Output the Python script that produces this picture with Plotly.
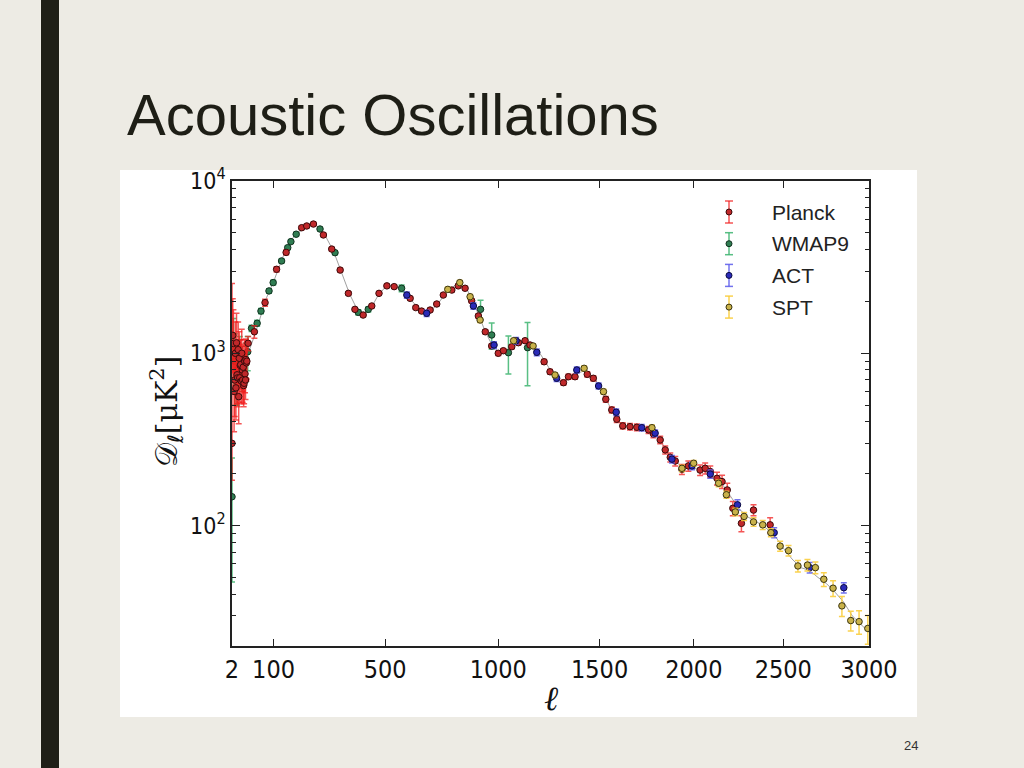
import numpy as np
import plotly.graph_objects as go

# ---------------- data ----------------
tick_ell = [2, 100, 500, 1000, 1500, 2000, 2500, 3000]
tick_ell_text = ["2", "100", "500", "1000", "1500", "2000", "2500", "3000"]
y_tick_vals = [100, 1000, 10000]
y_tick_text = ["10<sup>2</sup>", "10<sup>3</sup>", "10<sup>4</sup>"]
y_minor_vals = [20, 30, 40, 50, 60, 70, 80, 90,
                200, 300, 400, 500, 600, 700, 800, 900,
                2000, 3000, 4000, 5000, 6000, 7000, 8000, 9000]

planck_ell = [2, 3, 4, 5, 6, 7, 8, 9, 10, 11, 12, 13, 14, 15, 16, 17, 18, 19, 20,
              21, 22, 23, 24, 25, 26, 27, 28, 29, 30,
              33, 48, 76, 109, 138, 188, 205, 228, 263, 293,
              324, 355, 380, 412, 446, 475, 507, 537, 604, 628,
              653, 690, 719, 748, 786, 815, 846, 876, 907, 939,
              969, 1000, 1024, 1064, 1096, 1128, 1152, 1221, 1250, 1317,
              1342, 1375, 1437, 1468, 1532, 1563, 1589, 1620, 1658, 1694,
              1756, 1782, 1818, 1845, 1872, 1899, 1935, 1970, 2034, 2062,
              2090, 2127, 2155, 2184, 2215, 2263, 2331, 2425]
planck_D = [300, 1270, 1140, 600, 700, 1000, 630, 1150, 750, 720, 1050, 560, 935, 720, 850,
            860, 690, 1000, 800, 700, 830, 650, 670, 900, 760, 700, 920, 880, 900,
            1143, 1333, 1968, 3073, 3850, 5357, 5482, 5625, 4862, 4027,
            3041, 2228, 1799, 1667, 1882, 2228, 2462, 2437, 2084, 1841,
            1758, 1783, 1932, 2178, 2328, 2462, 2384, 2018, 1647, 1333,
            1103, 1000, 1035, 1092, 1152, 1183, 1117, 893, 781, 675,
            731, 731, 755, 716, 541, 469, 414, 379, 375, 372,
            359, 340, 314, 275, 249, 237, 212, 222, 210, 215,
            206, 188, 180, 161, 126, 103, 123, 101]
planck_err_plus = [2240, 800, 650, 380, 400, 520, 330, 560, 360, 340, 470, 250, 400, 300, 350,
                   340, 270, 380, 300, 260, 300, 230, 230, 300, 250, 230, 290, 270, 270,
                   110, 110, 90, 110, 120, 130, 130, 130, 110, 90,
                   70, 50, 40, 40, 40, 45, 50, 50, 45, 40,
                   40, 40, 42, 45, 50, 55, 55, 50, 42, 35,
                   30, 28, 28, 30, 32, 33, 32, 27, 24, 22,
                   24, 25, 26, 25, 21, 19, 17, 16, 16, 17,
                   17, 17, 16, 15, 15, 15, 14, 15, 15, 16,
                   16, 16, 16, 15, 12, 11, 9, 10]
planck_err_minus = [117, 500, 420, 250, 270, 350, 220, 370, 240, 230, 310, 170, 270, 200, 230,
                    230, 180, 260, 200, 180, 200, 160, 160, 200, 170, 160, 200, 190, 190,
                    110, 110, 90, 110, 120, 130, 130, 130, 110, 90,
                    70, 50, 40, 40, 40, 45, 50, 50, 45, 40,
                    40, 40, 42, 45, 50, 55, 55, 50, 42, 35,
                    30, 28, 28, 30, 32, 33, 32, 27, 24, 22,
                    24, 25, 26, 25, 21, 19, 17, 16, 16, 17,
                    17, 17, 16, 15, 15, 15, 14, 15, 15, 16,
                    16, 16, 16, 15, 12, 11, 9, 10]

wmap_ell = [2, 4, 6, 10, 15, 20, 28, 32, 41, 55, 65, 87, 99,
            124, 143, 153, 170, 251, 305, 393, 432, 568, 917, 969, 1048, 1140]
wmap_D = [147, 1092, 900, 800, 950, 850, 914, 1021, 1396, 1494, 1758, 2301, 2572,
          3435, 4103, 4448, 4910, 5265, 3837, 1729, 1799, 2384, 1799, 1277, 1008, 1078]
wmap_err = [100, 500, 400, 300, 300, 250, 230, 230, 60, 60, 60, 70, 80,
            90, 100, 100, 110, 120, 100, 60, 60, 110, 230, 220, 250, 430]

act_ell = [590, 675, 884, 980, 1085, 1185, 1283, 1384, 1495, 1586,
           1720, 1791, 1881, 1990, 2090, 2241, 2448, 2652, 2851]
act_D = [2178, 1706, 1882, 1117, 1183, 1013, 716, 800, 646, 455,
         370, 344, 243, 222, 199, 132, 91, 57, 43.6]
act_err = [90, 70, 80, 50, 50, 45, 30, 32, 26, 20,
           16, 15, 12, 11, 11, 9, 6, 4, 3]

spt_ell = [768, 822, 869, 915, 1073, 1167, 1275, 1421, 1520, 1774,
           1935, 1999, 2136, 2179, 2229, 2278, 2331, 2383, 2429, 2482,
           2530, 2584, 2639, 2685, 2734, 2788, 2840, 2892, 2941, 2993]
spt_D = [2350, 2572, 2131, 1560, 1183, 1103, 748, 818, 599, 370,
         215, 230, 176, 151, 120, 113, 105, 101, 91, 76,
         71.5, 58.3, 59, 57, 48.8, 43.3, 34.2, 28.1, 27.7, 25.3]
spt_err = [70, 75, 65, 50, 35, 33, 24, 25, 20, 13,
           9, 9, 8, 7, 6, 6, 6, 6, 5, 5,
           5, 4.5, 4.5, 4.5, 4.5, 4.5, 4.5, 3.7, 4.3, 4.8]

model_ell = [2, 10, 30, 50, 80, 100, 130, 160, 200, 220, 240, 270, 300, 330, 360, 390,
             410, 440, 470, 500, 530, 560, 600, 640, 680, 720, 760, 800, 820, 850,
             880, 910, 940, 970, 1000, 1030, 1070, 1110, 1140, 1170, 1200, 1230, 1260,
             1300, 1340, 1380, 1420, 1450, 1480, 1510, 1540, 1570, 1600, 1650, 1700,
             1750, 1790, 1820, 1860, 1900, 1950, 2000, 2050, 2100, 2150, 2200, 2250,
             2300, 2350, 2400, 2450, 2500, 2550, 2600, 2650, 2700, 2750, 2800, 2850,
             2900, 2950, 3000]
model_D = [1000, 800, 950, 1300, 2100, 2600, 3700, 4700, 5400, 5650, 5500, 4800, 3900,
           2900, 2200, 1780, 1680, 1800, 2150, 2420, 2480, 2380, 2100, 1820, 1720, 1900,
           2250, 2480, 2520, 2400, 2050, 1640, 1330, 1120, 1020, 1030, 1100, 1160, 1160,
           1100, 1000, 880, 770, 690, 700, 760, 790, 760, 700, 610, 520, 450, 400, 375,
           370, 360, 340, 310, 265, 235, 215, 215, 210, 195, 178, 150, 125, 112, 105, 97,
           88, 74, 64, 57, 55, 50, 46, 41, 36, 30, 27, 24]

# ---------------- styling / layout constants ----------------
W, H = 1024, 768
POW = 0.79            # horizontal scale of the original plot (ell ** 0.79)
AX_L, AX_R, AX_T, AX_B = 232, 869, 181, 646
BG = "#EDEBE4"
NARROW = "Liberation Sans Narrow, DejaVu Sans Condensed, Liberation Sans, sans-serif"
SANS = "Liberation Sans, Arial, sans-serif"


def tx(vals):
    return np.asarray(vals, dtype=float) ** POW


def px(x):
    return x / W


def py(y):
    return 1 - y / H


fig = go.Figure()

fig.add_trace(go.Scatter(
    x=tx(model_ell), y=model_D, mode="lines",
    line=dict(color="rgba(120,120,120,0.7)", width=1), hoverinfo="skip",
    showlegend=False))

series = [
    ("WMAP9", wmap_ell, wmap_D, wmap_err, wmap_err,
     "rgba(60,180,110,0.85)", "#2f7d52", "#10301e"),
    ("Planck", planck_ell, planck_D, planck_err_plus, planck_err_minus,
     "rgba(240,30,30,0.75)", "#c0282a", "#3a0a0a"),
    ("ACT", act_ell, act_D, act_err, act_err,
     "rgba(90,90,235,0.85)", "#2a2ab8", "#0a0a40"),
    ("SPT", spt_ell, spt_D, spt_err, spt_err,
     "rgba(250,205,60,0.9)", "#c9b24a", "#3a3410"),
]
for name, ell, D, ep, em, ecol, fcol, lcol in series:
    fig.add_trace(go.Scatter(
        x=tx(ell), y=D, mode="markers", name=name, showlegend=False,
        marker=dict(size=6.5, color=fcol, line=dict(color=lcol, width=1)),
        error_y=dict(type="data", array=ep, arrayminus=em, symmetric=False,
                     color=ecol, thickness=1.5, width=3)))

shapes = [
    dict(type="rect", xref="paper", yref="paper", x0=px(120), x1=px(917),
         y0=py(717), y1=py(170), fillcolor="white", line=dict(width=0), layer="below"),
    dict(type="rect", xref="paper", yref="paper", x0=px(41), x1=px(59),
         y0=0, y1=1, fillcolor="#1f1f17", line=dict(width=0), layer="below"),
]

annotations = [
    dict(text="Acoustic Oscillations", x=px(125), y=py(114), xref="paper", yref="paper",
         xanchor="left", yanchor="middle", showarrow=False,
         font=dict(family=SANS, size=58, color="#1e1e16")),
    dict(text="24", x=px(911), y=py(745), xref="paper", yref="paper",
         xanchor="center", yanchor="middle", showarrow=False,
         font=dict(family=SANS, size=13, color="#333333")),
    dict(text="𝒟<sub>ℓ</sub>[μK<sup>2</sup>]", x=px(166), y=py(412), xref="paper",
         yref="paper", xanchor="center", yanchor="middle", textangle=-90,
         showarrow=False, font=dict(family="DejaVu Serif, DejaVu Sans, serif", size=30,
                                    color="#111111")),
    dict(text="<i>ℓ</i>", x=px(551), y=py(698), xref="paper", yref="paper",
         xanchor="center", yanchor="middle", showarrow=False,
         font=dict(family="DejaVu Serif, serif", size=34, color="#111111")),
]

# custom legend (error-bar glyph + label)
leg_x, leg_text_x, leg_y0, leg_dy = 729, 770, 212, 31.7
for i, (name, ell, D, ep, em, ecol, fcol, lcol) in enumerate(
        [series[1], series[0], series[2], series[3]]):
    yc = leg_y0 + i * leg_dy
    shapes.append(dict(type="line", xref="paper", yref="paper", x0=px(leg_x), x1=px(leg_x),
                       y0=py(yc - 11), y1=py(yc + 11), line=dict(color=ecol, width=1.5)))
    for yy in (yc - 11, yc + 11):
        shapes.append(dict(type="line", xref="paper", yref="paper", x0=px(leg_x - 4),
                           x1=px(leg_x + 4), y0=py(yy), y1=py(yy),
                           line=dict(color=ecol, width=1.5)))
    shapes.append(dict(type="circle", xref="paper", yref="paper", x0=px(leg_x - 3),
                       x1=px(leg_x + 3), y0=py(yc + 3), y1=py(yc - 3),
                       fillcolor=fcol, line=dict(color=lcol, width=1)))
    annotations.append(dict(text=name, x=px(leg_text_x), y=py(yc), xref="paper",
                            yref="paper", xanchor="left", yanchor="middle", showarrow=False,
                            font=dict(family=SANS, size=21, color="#222222")))

fig.update_layout(
    width=W, height=H, autosize=False,
    margin=dict(l=0, r=0, t=0, b=0, pad=0, autoexpand=False),
    paper_bgcolor=BG, plot_bgcolor="white", showlegend=False,
    shapes=shapes, annotations=annotations,
    xaxis=dict(domain=[px(AX_L), px(AX_R)], range=[float(tx([2])[0]), float(tx([3000])[0])],
               automargin=False,
               tickmode="array", tickvals=tx(tick_ell), ticktext=tick_ell_text,
               ticks="inside", ticklen=7, tickwidth=1, tickcolor="#222",
               showline=True, linecolor="#222", linewidth=1.5, mirror="ticks",
               showgrid=False, zeroline=False,
               tickfont=dict(family=NARROW, size=25, color="#111")),
    yaxis=dict(domain=[py(AX_B), py(AX_T)], type="log", range=[np.log10(20), 4],
               automargin=False,
               tickmode="array", tickvals=y_tick_vals, ticktext=y_tick_text,
               ticks="inside", ticklen=8, tickwidth=1, tickcolor="#222",
               minor=dict(ticks="inside", ticklen=4, tickcolor="#222",
                          tickmode="array", tickvals=y_minor_vals),
               showline=True, linecolor="#222", linewidth=1.5, mirror="ticks",
               showgrid=False, zeroline=False,
               tickfont=dict(family=NARROW, size=23, color="#111")),
)

fig.write_html(
    "out.html",
    config={"responsive": False, "displayModeBar": False},
    post_script="document.body.style.margin='0';document.body.style.overflow='hidden';",
)
